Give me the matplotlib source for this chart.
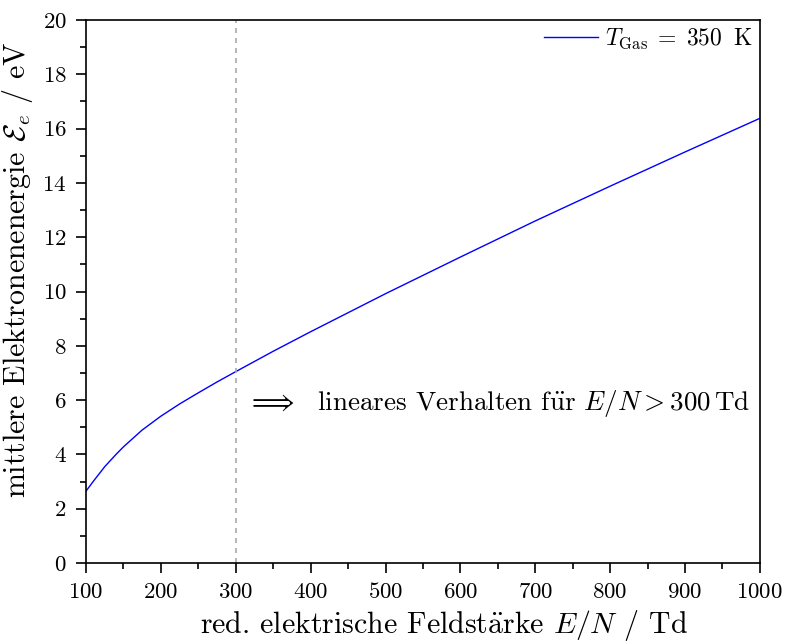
import numpy as np
import matplotlib
matplotlib.use("Agg")
import matplotlib.pyplot as plt

plt.rcParams["font.family"] = ["cmr10", "DejaVu Serif"]
plt.rcParams["mathtext.fontset"] = "cm"
plt.rcParams["axes.formatter.use_mathtext"] = True

# Reduced field strength E/N in Td and mean electron energy in eV
field = [100, 110, 125, 140, 150, 175, 200, 225, 250, 275, 300, 350, 400, 450, 500,
         600, 700, 800, 900, 1000]
energy = [2.65, 3.02, 3.55, 4.0, 4.28, 4.9, 5.41, 5.86, 6.27, 6.67, 7.05, 7.8, 8.52, 9.22, 9.92,
          11.27, 12.6, 13.88, 15.14, 16.38]
threshold = 300

fig = plt.figure(figsize=(7.85, 6.42), dpi=100)
ax = fig.add_axes([0.1096, 0.123, 0.8584, 0.8458])

ax.plot(field, energy, color="#0000ff", lw=1.0, label=r"$T_{\rm Gas}\;=\;350\;\;{\rm K}$")
ax.axvline(threshold, color="#aaaaaa", ls=(0, (3, 3)), lw=1.2)
ax.text(315, 5.86, r"$\Longrightarrow$  lineares Verhalten f$\ddot{\rm u}$r $E/N > 300\,$Td",
        fontsize=19.5, va="center", ha="left")

ax.set_xlim(100, 1000)
ax.set_ylim(0, 20)
ax.set_xticks(np.arange(100, 1001, 100))
ax.set_xticks(np.arange(150, 1000, 100), minor=True)
ax.set_yticks(np.arange(0, 21, 2))
ax.set_yticks(np.arange(1, 20, 2), minor=True)
ax.tick_params(which="both", direction="out", top=False, right=False, labelsize=16.5,
               width=1.2, pad=7)
ax.tick_params(which="major", length=7)
ax.tick_params(which="minor", length=4)
for s in ax.spines.values():
    s.set_linewidth(1.2)

ax.set_xlabel(r"red. elektrische Feldst$\ddot{\rm a}$rke $E/N$ / Td", fontsize=21.5)
ax.set_ylabel(r"mittlere Elektronenenergie $\mathcal{E}_e$ / eV", fontsize=21.5)
ax.xaxis.set_label_coords(0.531, -0.083)
ax.yaxis.set_label_coords(-0.075, 0.54)

leg = ax.legend(loc="upper right", fontsize=17, frameon=False, borderaxespad=0.1,
                borderpad=0.2, handlelength=2.3, handletextpad=0.3)

fig.savefig("out.png", dpi=100)
